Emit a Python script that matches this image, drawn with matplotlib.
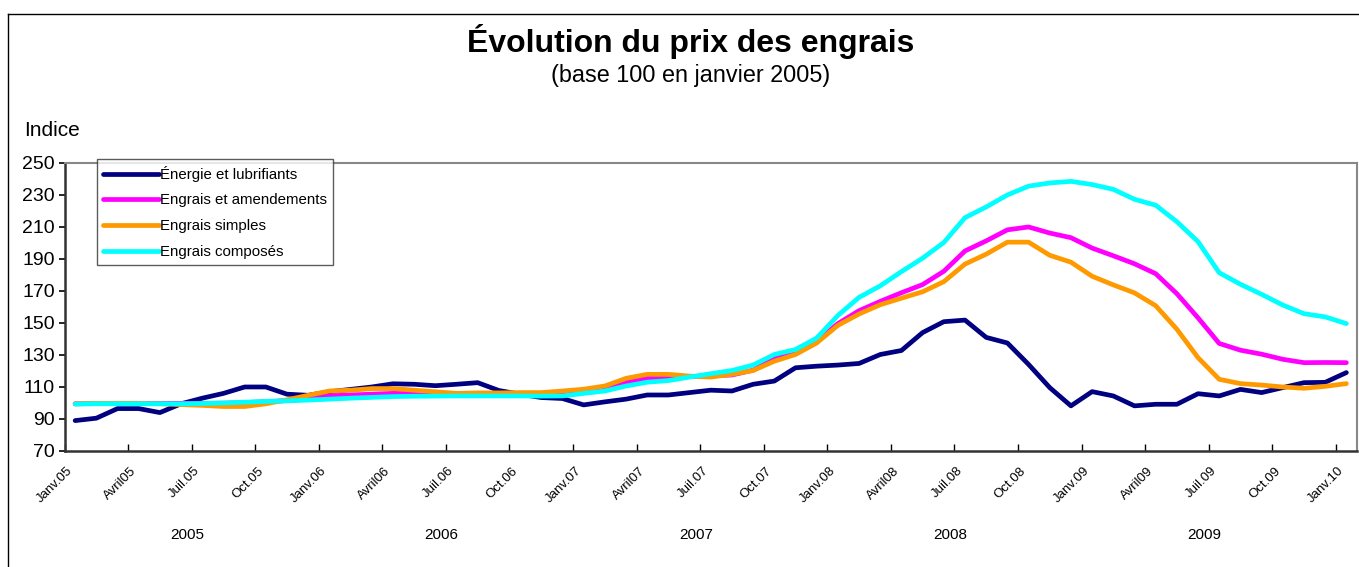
import numpy as np
import matplotlib.pyplot as plt
from matplotlib.lines import Line2D

plt.rcParams["font.family"] = ["Liberation Sans", "DejaVu Sans"]

# monthly index values, Janv.05 -> Janv.10 (61 points)
energie = [89, 90.5, 96.5, 96.5, 94, 99.5, 103, 106, 110, 110,
           105.5, 104.8, 107, 108.5, 110, 112, 111.7, 110.8, 111.7, 112.7,
           107.8, 105.5, 103.4, 102.8, 98.8, 100.7, 102.4, 105, 105, 106.5,
           108, 107.5, 111.7, 113.7, 122, 123, 123.7, 124.7, 130.3, 132.8,
           144, 150.8, 151.8, 141, 137.5, 124.1, 109.6, 98.2, 107.1, 104.4,
           98.2, 99.2, 99.2, 105.8, 104.4, 108.5, 106.5, 109.6, 112.7, 112.9,
           119]
amendements = [99.5, 99.7, 99.8, 99.8, 99.8, 99.8, 99.8, 99.9, 100.2, 100.8,
               101.5, 102.5, 104.5, 105, 105.5, 106, 106, 105.5, 105, 105,
               105, 105, 105, 105.5, 107, 109, 113, 115.5, 116, 116.5,
               117, 117.5, 120.5, 127.8, 131.9, 138.6, 149.6, 157.7, 163.5, 168.9,
               174, 182.3, 195, 201.3, 208.2, 210, 206.2, 203.3, 196.8, 192,
               187, 180.8, 168.3, 153.2, 137.2, 133, 130.5, 127.3, 125.2, 125.3,
               125.2]
simples = [99.5, 99.8, 99.8, 99.8, 99.5, 99, 98.5, 97.8, 97.8, 99.5,
           102, 104.8, 107.5, 108, 109, 109, 108, 107, 106, 106.3,
           106.3, 106.5, 106.5, 107.5, 108.6, 110.6, 115.4, 117.9, 117.9, 116.8,
           116.2, 117.9, 120.3, 126.1, 130.3, 137.5, 148.5, 155.6, 161.4, 165.5,
           169.5, 175.8, 186.8, 193, 200.5, 200.5, 192.3, 188, 179.2, 173.8,
           168.8, 160.8, 146.1, 128.3, 114.8, 112.1, 111.2, 110, 109.2, 110.4,
           112.1]
composes = [99.3, 99.5, 99.5, 99.5, 99.5, 99.5, 99.7, 100, 100.5, 101,
            101.3, 101.8, 102.4, 103, 103.5, 104, 104.2, 104.3, 104.4, 104.4,
            104.4, 104.4, 104.3, 104.4, 106, 107.5, 110.6, 113, 114, 116.2,
            118.3, 120.3, 123.7, 130.3, 133.4, 140.6, 154.7, 166, 173.2, 182.1,
            190.5, 200.3, 215.8, 222.5, 230, 235.5, 237.5, 238.5, 236.5, 233.5,
            227.3, 223.6, 213.3, 200.8, 181.4, 174.2, 167.9, 161.2, 155.8, 153.8,
            149.6]

series_names = ["Énergie et lubrifiants", "Engrais et amendements",
                "Engrais simples", "Engrais composés"]
series_colors = ["#000080", "#FF00FF", "#FF9900", "#00FFFF"]

tick_labels = ["Janv.05", "Avril05", "Juil.05", "Oct.05",
               "Janv.06", "Avril06", "Juil.06", "Oct.06",
               "Janv.07", "Avril07", "Juil.07", "Oct.07",
               "Janv.08", "Avril08", "Juil.08", "Oct.08",
               "Janv.09", "Avril09", "Juil.09", "Oct.09",
               "Janv.10"]
years = ["2005", "2006", "2007", "2008", "2009"]

x = np.arange(len(energie))

fig = plt.figure(figsize=(13.59, 5.67), dpi=100)
ax = fig.add_axes([0.0475, 0.2046, 0.951, 0.508])

for vals, name, col in zip([energie, amendements, simples, composes],
                           series_names, series_colors):
    ax.plot(x, vals, color=col, lw=3.4, label=name,
            solid_capstyle="round", solid_joinstyle="round")

ax.set_xlim(-0.5, len(x) - 0.5)
ax.set_ylim(70, 250)
ax.set_yticks(np.arange(70, 251, 20))
ax.tick_params(axis="y", direction="out", length=4, width=1.2, labelsize=14, pad=3)

# labels every 3 months, tick marks between categories
ax.set_xticks(x[::3])
ax.set_xticklabels(tick_labels, rotation=45, ha="right", va="top", fontsize=9.5)
ax.tick_params(axis="x", which="major", length=0, pad=10)
ax.set_xticks(np.arange(-0.5, len(x) - 0.5, 3), minor=True)
ax.tick_params(axis="x", which="minor", direction="in", length=5, width=1)

for side in ["top", "right"]:
    ax.spines[side].set_color("#888888")
    ax.spines[side].set_linewidth(1.5)
for side in ["left", "bottom"]:
    ax.spines[side].set_color("#333333")
    ax.spines[side].set_linewidth(1.8)

for k, yr in enumerate(years):
    ax.text(12 * k + 5.3, -0.29, yr, transform=ax.get_xaxis_transform(),
            ha="center", va="center", fontsize=11)

leg = ax.legend(loc="upper left", bbox_to_anchor=(0.025, 1.012), fontsize=10.8,
                frameon=True, fancybox=False, edgecolor="#333333",
                handlelength=3.7, handletextpad=0.1, labelspacing=0.78,
                borderpad=0.42, borderaxespad=0)
leg.get_frame().set_linewidth(1.0)

fig.text(0.508, 0.926, "Évolution du prix des engrais", ha="center", va="center",
         fontsize=23, fontweight="bold")
fig.text(0.508, 0.867, "(base 100 en janvier 2005)", ha="center", va="center",
         fontsize=16.8)
fig.text(0.018, 0.77, "Indice", ha="left", va="center", fontsize=15)

# outer chart frame (left and top edges visible)
fig.add_artist(Line2D([8 / 1359, 8 / 1359], [0, 1 - 14 / 567], color="black", lw=1,
                      transform=fig.transFigure))
fig.add_artist(Line2D([8 / 1359, 1], [1 - 14 / 567, 1 - 14 / 567], color="black", lw=1,
                      transform=fig.transFigure))

plt.savefig("out.png", dpi=100)
plt.close()
